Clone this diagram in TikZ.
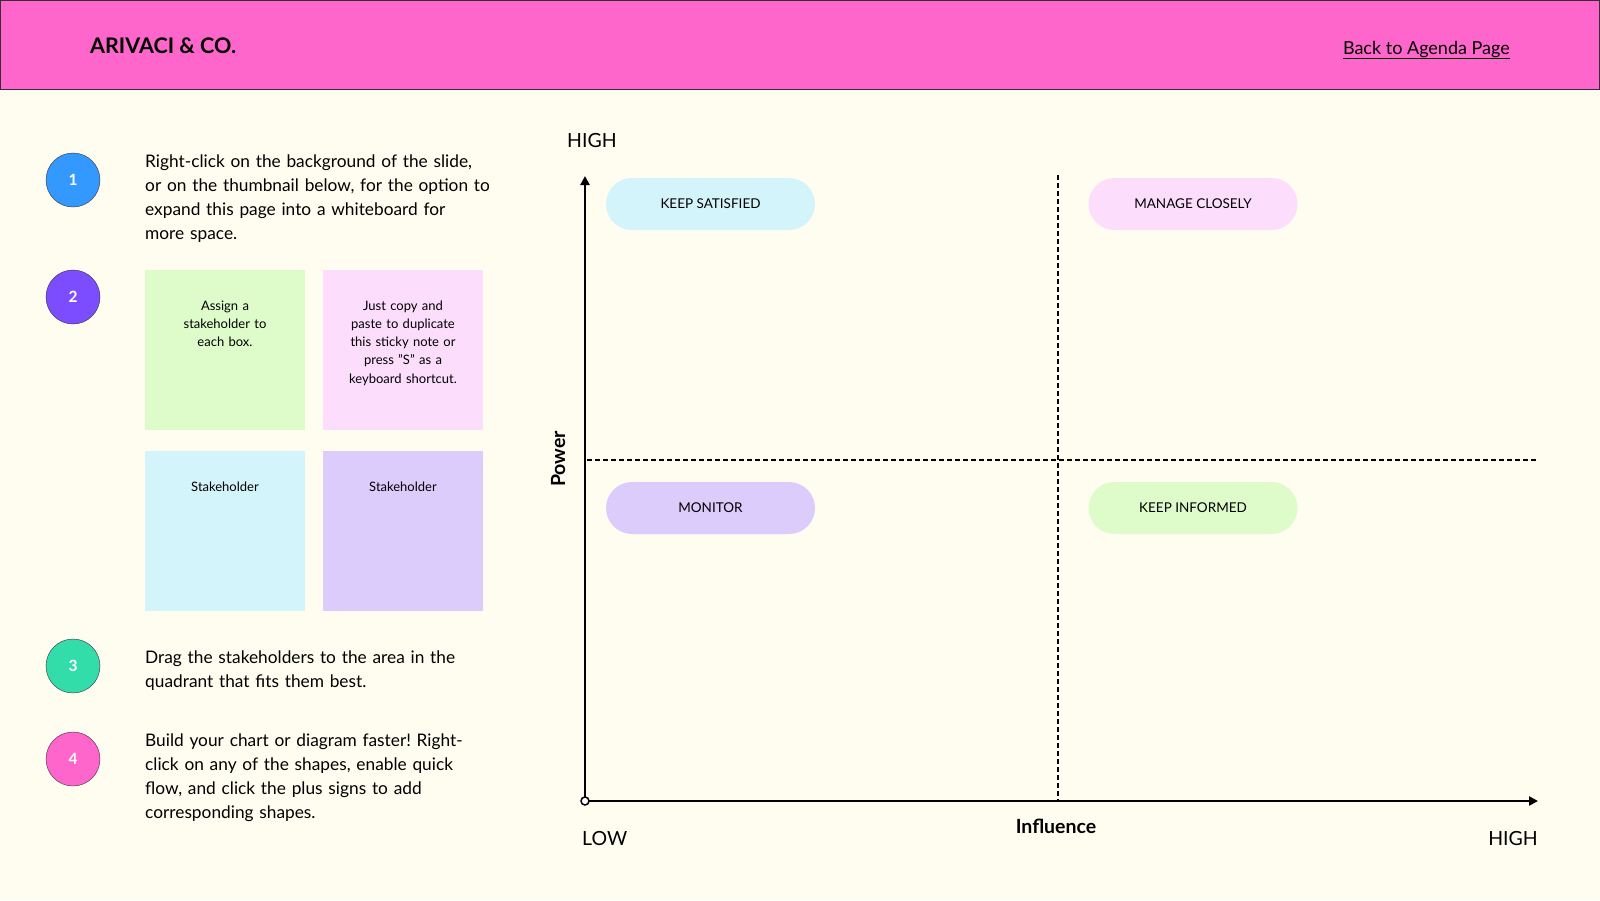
\documentclass[tikz,border=0pt]{standalone}
\usepackage{fontspec}
\setmainfont{Lato}
\frenchspacing
\usetikzlibrary{positioning, arrows.meta}
\definecolor{bgcream}{HTML}{FEFDF0}
\definecolor{headpink}{HTML}{FF66CC}
\definecolor{headline}{HTML}{3A2A3A}
\definecolor{numblue}{HTML}{3399FF}
\definecolor{numpurple}{HTML}{7C4DFF}
\definecolor{numgreen}{HTML}{33DDAA}
\definecolor{notegreen}{HTML}{DDFCCA}
\definecolor{notepink}{HTML}{FCDDFC}
\definecolor{noteblue}{HTML}{D4F4FC}
\definecolor{notepurple}{HTML}{DCCCFC}

\begin{document}
\begin{tikzpicture}[x=1pt, y=-1pt,
    numdot/.style={circle, draw=headline, minimum size=54pt, inner sep=0pt, text=white, font=\bfseries\fontsize{15.5}{18}\selectfont},
    para/.style={anchor=base west, align=left, text width=420pt, inner sep=0pt, font=\fontsize{17.3}{24}\selectfont},
    sticky/.style={anchor=north west, minimum width=160pt, minimum height=160pt, inner sep=0pt},
    stickytext/.style={anchor=base, align=center, text width=150pt, inner sep=0pt, font=\fontsize{13}{18.3}\selectfont},
    pill/.style={rounded corners=26pt, minimum width=209pt, minimum height=52pt, inner sep=0pt, font=\fontsize{13.5}{16}\selectfont},
    axislabel/.style={anchor=base, inner sep=0pt, font=\fontsize{19.5}{22}\selectfont}]
        \fill[bgcream] (0,0) rectangle (1600,900);
        \useasboundingbox (0,0) rectangle (1600,900);
        % header band
        \draw[draw=headline, fill=headpink] (0.5,0.5) rectangle (1599.5,89);
        \node[anchor=base west, inner sep=0pt, font=\bfseries\fontsize{21.5}{24}\selectfont] (brand) at (90,53) {ARIVACI \& CO.};
        \node[anchor=base east, inner sep=0pt, font=\fontsize{18}{22}\selectfont] (agenda) at (1510,54) {\underline{Back to Agenda Page}};
        % numbered steps
        \node[numdot, fill=numblue] (n1) at (73,180) {1};
        \node[numdot, fill=numpurple] (n2) at (73,297) {2};
        \node[numdot, fill=numgreen] (n3) at (73,666) {3};
        \node[numdot, fill=headpink] (n4) at (73,759) {4};
        \node[para] (t1) at (145,167) {Right-click on the background of the slide,\\ or on the thumbnail below, for the option to\\ expand this page into a whiteboard for\\ more space.};
        \node[para] (t3) at (145,663) {Drag the stakeholders to the area in the\\ quadrant that fits them best.};
        \node[para] (t4) at (145,746) {Build your chart or diagram faster! Right-\\ click on any of the shapes, enable quick\\ flow, and click the plus signs to add\\ corresponding shapes.};
        % sticky notes
        \node[sticky, fill=notegreen] (s1) at (145,270) {};
        \node[sticky, fill=notepink] (s2) at (323,270) {};
        \node[sticky, fill=noteblue] (s3) at (145,451) {};
        \node[sticky, fill=notepurple] (s4) at (323,451) {};
        \node[stickytext] (s1t) at (225,310) {Assign a\\ stakeholder to\\ each box.};
        \node[stickytext] (s2t) at (403,310) {Just copy and\\ paste to duplicate\\ this sticky note or\\ press "S" as a\\ keyboard shortcut.};
        \node[stickytext] (s3t) at (225,491) {Stakeholder};
        \node[stickytext] (s4t) at (403,491) {Stakeholder};
        % quadrant chart
        \coordinate (orig) at (585,801);
        \coordinate (ytop) at (585,176);
        \coordinate (xend) at (1538,801);
        \coordinate (hmidl) at (587,460);
        \coordinate (hmidr) at (1538,460);
        \coordinate (vmidt) at (1058,175);
        \coordinate (vmidb) at (1058,800);
        \draw[line width=1.2pt, dash pattern=on 5pt off 3pt] (hmidl) -- (hmidr);
        \draw[line width=1.2pt, dash pattern=on 5pt off 3pt] (vmidt) -- (vmidb);
        \draw[line width=2.4pt, -{Triangle[length=9pt, width=9pt]}] (orig) -- (ytop);
        \draw[line width=2.4pt, -{Triangle[length=9pt, width=9pt]}] (orig) -- (xend);
        \draw[line width=1.5pt, fill=white] (orig) circle[radius=4];
        \node[pill, fill=noteblue] (satisfied) at (710.5,204) {KEEP SATISFIED};
        \node[pill, fill=notepink] (closely) at (1193,204) {MANAGE CLOSELY};
        \node[pill, fill=notepurple] (monitor) at (710.5,508) {MONITOR};
        \node[pill, fill=notegreen] (informed) at (1193,508) {KEEP INFORMED};
        \node[axislabel, anchor=base west] (yhigh) at (567,147) {HIGH};
        \node[axislabel, anchor=base west] (xlow) at (582,845) {LOW};
        \node[axislabel, anchor=base east] (xhigh) at (1538,845) {HIGH};
        \node[axislabel, font=\bfseries\fontsize{19.5}{22}\selectfont] (influence) at (1056,833) {Influence};
        \node[axislabel, rotate=90, font=\bfseries\fontsize{19.5}{22}\selectfont] (power) at (565,459) {Power};
\end{tikzpicture}
\end{document}
